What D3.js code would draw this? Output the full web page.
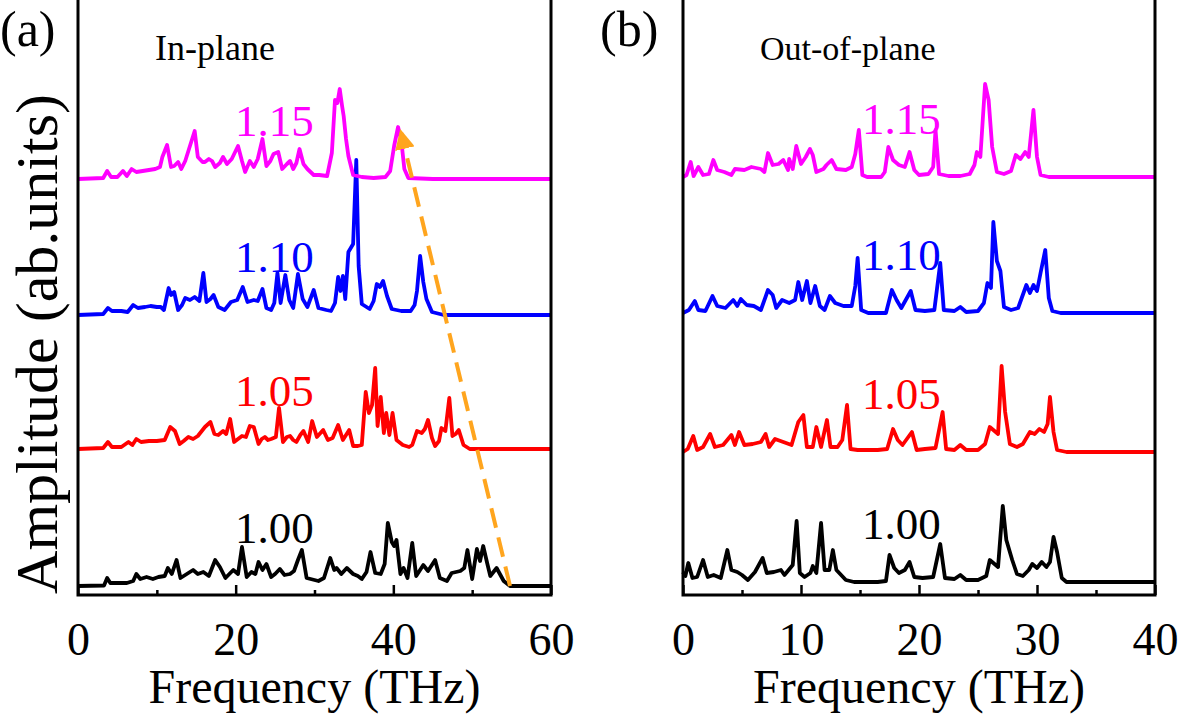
<!DOCTYPE html>
<html><head><meta charset="utf-8">
<script src="https://cdn.jsdelivr.net/npm/d3@7"></script>
<style>body{margin:0;background:#fff}svg{display:block}text{font-family:"Liberation Serif","Times New Roman",serif}</style>
</head><body>
<svg id="c" width="1181" height="721"></svg>
<script>
// ---------- DATA ----------
const strains = ["1.00", "1.05", "1.10", "1.15"];
const colors = ["#000000", "#ff0000", "#0000ff", "#ff00ff"];
const ticksA = [0, 20, 40, 60];
const minorA = [10, 30, 50];
const ticksB = [0, 10, 20, 30, 40];
const minorB = [5, 15, 25, 35];
// stacking offsets (amplitude units)
const offsetsA = [9, 146, 280, 416];
const offsetsB = [13, 143, 282, 418];

// Panel (a) In-plane spectra: [frequency THz, amplitude]
const inA100 = [[0,0],[3.3,0.5],[3.7,8],[4.1,3],[5.5,3],[6.2,3],[7.0,5],[7.4,12],[7.9,7],[8.7,9],[9.5,7],[10.2,9],[11.0,10],[11.4,18],[11.9,12],[12.5,26],[13.0,8],[13.8,12],[14.6,16],[15.2,12],[15.9,14],[16.6,10],[17.4,26],[18.0,19],[18.7,8],[19.2,12],[19.7,16],[20.3,12],[20.8,39],[21.4,9],[22.0,14],[22.5,12],[22.9,24],[23.4,16],[23.9,22],[24.5,9],[25.0,12],[25.6,17],[26.2,11],[26.9,12],[27.4,15],[27.9,26],[28.4,36],[29.0,8],[29.5,7],[30.5,5],[31.2,8],[32.0,28],[32.5,16],[32.8,18],[33.4,12],[34.1,18],[34.9,12],[35.5,10],[36.0,7],[36.6,14],[37.1,34],[37.7,13],[38.4,12],[38.9,22],[39.3,63],[39.8,44],[40.1,40],[40.4,46],[40.9,12],[41.3,18],[41.8,8],[42.4,43],[42.9,10],[43.8,21],[44.4,15],[45.3,26],[45.9,8],[46.8,5],[47.4,13],[48.5,15],[49.0,18],[49.4,36],[50.0,7],[50.6,37],[51.0,25],[51.4,40],[51.9,23],[52.3,10],[53.1,18],[54.0,5],[54.8,0],[60,0]];
const inA105 = [[0,0],[3.2,1],[3.8,7],[4.3,2],[5.5,2],[6.4,7],[6.9,4],[7.4,10],[8.0,7],[9.0,8],[10.0,8],[11.0,9],[11.7,22],[12.3,18],[12.9,5],[13.4,8],[14.0,12],[14.6,10],[15.2,13],[16.1,22],[16.8,27],[17.3,15],[17.8,14],[18.4,18],[18.8,15],[19.3,30],[19.8,7],[20.3,10],[20.8,13],[21.3,12],[21.8,23],[22.3,22],[22.9,5],[23.3,10],[23.7,12],[24.1,9],[24.5,10],[25.1,12],[25.5,41],[26.0,7],[26.5,12],[26.9,13],[27.3,9],[27.7,7],[28.2,14],[28.6,18],[29.2,7],[29.7,28],[30.3,12],[31.1,19],[31.7,9],[32.3,11],[33.0,24],[33.6,9],[34.4,19],[34.9,3],[35.5,3],[36.0,4],[36.5,57],[36.9,36],[37.3,44],[37.7,81],[38.0,23],[38.4,52],[38.8,16],[39.1,36],[39.5,14],[39.9,36],[40.4,9],[41.2,4],[42.0,2],[42.4,4],[43.0,18],[43.6,16],[44.0,20],[44.4,29],[44.9,11],[45.3,3],[45.8,8],[46.1,21],[46.6,18],[47.1,51],[47.5,13],[47.9,15],[48.3,19],[48.9,4],[49.7,0],[60,0]];
const inA110 = [[0,0],[3.2,1],[3.8,7],[4.3,4],[5.5,4],[6.3,3],[7.0,10],[7.6,7],[8.5,8],[9.2,9],[10.0,8],[10.5,8],[10.9,5],[11.5,27],[11.8,20],[12.2,23],[12.7,5],[13.2,10],[13.6,17],[14.2,15],[14.8,18],[15.4,14],[15.9,42],[16.3,13],[16.8,16],[17.2,20],[17.8,8],[18.6,5],[19.4,13],[20.2,15],[20.9,28],[21.5,13],[22.3,15],[22.8,14],[23.4,26],[23.9,7],[24.5,5],[24.9,12],[25.3,42],[25.7,12],[26.3,40],[26.8,15],[27.3,7],[27.9,41],[28.5,16],[29.1,8],[29.9,25],[30.5,7],[31.5,5],[32.1,4],[32.6,12],[33.0,38],[33.3,24],[33.6,39],[33.9,16],[34.3,63],[34.9,71],[35.3,155],[35.6,49],[36.0,11],[37.0,6],[37.5,14],[37.9,31],[38.3,28],[38.7,34],[39.2,19],[39.8,6],[41.0,4],[42.2,4],[42.7,10],[43.0,24],[43.4,59],[43.8,33],[44.2,16],[44.9,3],[46.4,0],[60,0]];
const inA115 = [[0,0],[3.2,1],[3.7,8],[4.2,2],[5.0,2],[5.7,8],[6.2,3],[6.8,10],[7.4,7],[8.2,8],[9.0,9],[9.8,10],[10.4,12],[10.7,22],[11.3,34],[11.8,12],[12.2,13],[12.7,17],[13.1,10],[13.6,18],[14.0,28],[14.8,48],[15.2,22],[15.8,17],[16.1,17],[16.6,20],[17.0,18],[17.4,12],[18.0,16],[18.4,22],[18.9,15],[19.5,20],[20.3,33],[20.8,18],[21.2,7],[21.8,18],[22.3,12],[22.8,20],[23.4,40],[23.9,13],[24.4,18],[24.8,25],[25.4,27],[25.9,10],[26.5,15],[26.9,18],[27.3,10],[27.7,16],[28.1,30],[28.6,15],[29.1,10],[29.9,4],[30.6,4],[31.6,3],[32.2,26],[32.6,79],[32.9,76],[33.2,90],[33.5,73],[33.7,63],[34.0,40],[34.3,23],[34.9,4],[36.0,2],[37.5,1],[39.0,2],[39.6,8],[40.1,33],[40.6,52],[41.0,39],[41.4,10],[41.9,1],[45,0],[60,0]];

// Panel (b) Out-of-plane spectra
const outB100 = [[0,10],[0.2,6],[0.45,19],[0.8,4],[1.2,5],[1.7,22],[2.1,5],[2.6,7],[3.2,4],[3.76,32],[4.1,12],[4.6,10],[5.0,7],[5.5,2],[6.1,10],[6.75,24],[7.1,9],[7.7,10],[8.3,12],[8.6,7],[9.3,17],[9.63,61],[9.9,9],[10.3,5],[10.8,9],[11.0,16],[11.3,9],[11.7,59],[12.0,12],[12.4,12],[12.7,32],[13.0,12],[13.8,2],[14.5,0],[15.5,0],[16.5,0],[17.2,1],[17.5,27],[17.9,14],[18.3,9],[18.8,12],[19.2,20],[19.6,5],[20.3,4],[21.2,5],[21.8,38],[22.2,4],[23.0,3],[23.5,7],[24.0,2],[25.0,2],[25.7,6],[26.0,22],[26.4,18],[26.7,15],[27.1,76],[27.4,42],[27.9,22],[28.3,8],[28.8,6],[29.3,12],[29.6,18],[30.0,14],[30.4,20],[30.8,15],[31.1,20],[31.4,45],[31.7,30],[32.1,4],[32.5,0],[40,0]];
const outB105 = [[0,0],[0.4,3],[0.87,16],[1.2,2],[1.7,5],[2.3,18],[2.7,5],[3.4,7],[4.1,17],[4.4,7],[4.75,20],[5.2,7],[5.9,8],[6.6,10],[7.0,18],[7.3,5],[7.8,13],[8.5,10],[9.2,7],[9.77,30],[10.2,37],[10.5,5],[11.0,5],[11.3,25],[11.7,5],[12.2,32],[12.5,5],[13.1,5],[13.5,12],[13.9,47],[14.2,3],[14.8,2],[16.5,2],[17.3,3],[17.8,23],[18.2,12],[18.6,7],[19.4,20],[19.8,2],[20.5,3],[21.4,4],[22.0,40],[22.3,3],[23.0,2],[23.5,7],[24.0,2],[25.0,2],[25.6,8],[26.0,25],[26.3,22],[26.7,18],[27.0,86],[27.3,40],[27.7,8],[28.3,5],[28.8,8],[29.4,20],[29.8,18],[30.2,23],[30.6,20],[30.9,28],[31.1,55],[31.4,20],[31.7,2],[32.5,0],[40,0]];
const outB110 = [[0,0],[0.5,3],[1.0,12],[1.3,3],[1.9,2],[2.5,17],[2.9,7],[3.6,5],[4.26,13],[4.6,7],[4.9,14],[5.4,8],[6.0,7],[6.6,3],[7.2,23],[7.6,18],[7.9,5],[8.4,13],[9.0,10],[9.5,13],[9.77,31],[10.1,13],[10.5,32],[10.8,10],[11.2,27],[11.6,7],[12.0,3],[12.45,17],[12.9,10],[13.6,7],[14.3,7],[14.6,27],[14.8,55],[15.1,3],[15.7,0],[17.2,0],[17.7,23],[18.1,13],[18.5,5],[19.3,22],[19.7,3],[20.5,2],[21.3,3],[21.8,50],[22.1,3],[23.0,2],[23.5,6],[24.0,1],[25.0,2],[25.5,10],[25.8,30],[26.1,25],[26.3,91],[26.6,52],[26.9,42],[27.2,6],[27.8,3],[28.4,5],[29.1,28],[29.4,20],[29.7,28],[30.0,22],[30.3,40],[30.7,63],[31.0,15],[31.3,2],[32,0],[40,0]];
const outB115 = [[0,0],[0.3,2],[0.65,15],[0.9,1],[1.3,10],[1.7,2],[2.2,3],[2.57,17],[2.9,7],[3.5,5],[4.1,2],[4.4,8],[5.2,7],[5.8,10],[6.6,8],[6.9,5],[7.2,24],[7.6,12],[8.1,13],[8.5,17],[8.9,7],[9.0,18],[9.3,8],[9.6,31],[10.0,13],[10.4,20],[10.76,28],[11.0,22],[11.3,5],[11.9,8],[12.16,12],[12.6,17],[13.0,8],[13.8,7],[14.3,10],[14.6,23],[14.9,47],[15.2,2],[15.6,0],[16.8,0],[17.1,5],[17.4,30],[17.8,17],[18.3,12],[18.8,10],[19.2,25],[19.6,7],[20.0,2],[20.8,3],[21.2,10],[21.4,47],[21.7,3],[22.5,1],[23.5,1],[24.3,3],[24.7,12],[24.9,25],[25.2,20],[25.6,93],[25.9,77],[26.2,30],[26.6,5],[27.2,3],[27.8,6],[28.2,22],[28.6,18],[29.0,25],[29.3,20],[29.7,67],[30.0,20],[30.3,2],[31,0],[40,0]];

const seriesA = [inA100, inA105, inA110, inA115];
const seriesB = [outB100, outB105, outB110, outB115];
// orange trend arrow in panel (a): [frequency, stacked amplitude]
const arrowFrom = [54.8, 9];
const arrowTo = [41.0, 462];

// ---------- DRAW ----------
const svg = d3.select("#c");
const frameTop = -5, frameBottom = 595;
const y = d3.scaleLinear().domain([0, 595]).range([595, 0]);

function panel(xr, domain, series, offsets, ticks, minor, labelX) {
  const x = d3.scaleLinear().domain(domain).range(xr);
  const g = svg.append("g");
  const line = d3.line().x(d => x(d[0])).y(d => y(d[1]));
  series.forEach((s, i) => {
    g.append("path").datum(s.map(d => [d[0], d[1] + offsets[i]]))
      .attr("d", line).attr("fill", "none").attr("stroke", colors[i])
      .attr("stroke-width", 3.8).attr("stroke-linejoin", "round");
    g.append("text").attr("x", labelX).attr("y", y(offsets[i] + 43))
      .attr("font-size", 45).attr("fill", colors[i]).text(strains[i]);
  });
  g.append("path").attr("d", `M${xr[0]},${frameTop}V${frameBottom}H${xr[1]}V${frameTop}`)
    .attr("fill", "none").attr("stroke", "#000").attr("stroke-width", 3);
  const ax = d3.axisBottom(x).tickValues(ticks).tickSize(-10).tickPadding(0).tickFormat(d3.format("d"));
  const ag = g.append("g").attr("transform", `translate(0,${frameBottom})`).call(ax);
  ag.select(".domain").remove();
  ag.selectAll("line").attr("stroke-width", 2.5);
  ag.selectAll("text").attr("font-size", 46).attr("font-family", "Liberation Serif").attr("fill", "#000").attr("dy", "1.3em");
  const am = d3.axisBottom(x).tickValues(minor).tickSize(-5).tickFormat("");
  const mg = g.append("g").attr("transform", `translate(0,${frameBottom})`).call(am);
  mg.select(".domain").remove();
  mg.selectAll("line").attr("stroke-width", 2.5);
  g.append("text").attr("x", (xr[0] + xr[1]) / 2).attr("y", 703).attr("text-anchor", "middle")
    .attr("font-size", 48).text("Frequency (THz)");
  return {x, g};
}

const pa = panel([78, 551], [0, 60], seriesA, offsetsA, ticksA, minorA, 235);
const pb = panel([683, 1155], [0, 40], seriesB, offsetsB, ticksB, minorB, 862);

svg.append("text").attr("x", 0).attr("y", 46).attr("font-size", 50).text("(a)");
svg.append("text").attr("x", 155).attr("y", 60).attr("font-size", 36).text("In-plane");
svg.append("text").attr("x", 600).attr("y", 46).attr("font-size", 50).text("(b)");
svg.append("text").attr("x", 760).attr("y", 60).attr("font-size", 34).text("Out-of-plane");
svg.append("text").attr("transform", "translate(57,344) rotate(-90)").attr("text-anchor", "middle")
  .attr("font-size", 60).text("Amplitude (ab.units)");

const defs = svg.append("defs");
defs.append("marker").attr("id", "ah").attr("viewBox", "0 0 10 10").attr("refX", 8).attr("refY", 5)
  .attr("markerWidth", 5).attr("markerHeight", 5).attr("orient", "auto").attr("markerUnits", "strokeWidth")
  .append("path").attr("d", "M0,0L10,5L0,10Z").attr("fill", "#ffa51e");
pa.g.append("line").attr("x1", pa.x(arrowFrom[0])).attr("y1", y(arrowFrom[1]))
  .attr("x2", pa.x(arrowTo[0])).attr("y2", y(arrowTo[1]))
  .attr("stroke", "#ffa51e").attr("stroke-width", 4).attr("stroke-dasharray", "20,10")
  .attr("marker-end", "url(#ah)");
</script>
</body></html>
